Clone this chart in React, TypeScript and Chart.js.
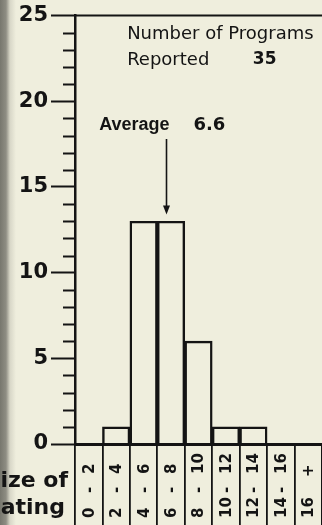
import React, { useEffect, useRef } from 'react';
import { Chart, registerables } from 'chart.js';

Chart.register(...registerables);

// ---- data ----
const categories = ['0 - 2', '2 - 4', '4 - 6', '6 - 8', '8 - 10', '10 - 12', '12 - 14', '14 - 16', '16 +'];
const programCounts = [0, 1, 13, 13, 6, 1, 1, 0, 0];
const yMax = 25;
const yLabelStep = 5;
const averageRating = 6.6;
const binWidth = 2;
const totalReported = 35;
const xTitleLines = ['Size of', 'Rating'];

const INK = '#141414';
const PAPER = '#efeedd';
const FONT = '"DejaVu Sans", sans-serif';

function drawRot(ctx: any, text: string, px: number, py: number) {
  ctx.save();
  ctx.translate(px, py);
  ctx.rotate(-Math.PI / 2);
  ctx.fillText(text, 0, 0);
  ctx.restore();
}

const decorPlugin = {
  id: 'decor',
  afterDraw(chart: any) {
    const { ctx, chartArea, scales } = chart;
    const x = scales.x;
    const y = scales.y;
    ctx.save();
    ctx.strokeStyle = INK;
    ctx.fillStyle = INK;
    ctx.lineCap = 'butt';

    // minor ticks
    ctx.lineWidth = 2;
    for (let v = 0; v <= yMax; v++) {
      if (v % yLabelStep === 0) continue;
      const py = Math.round(y.getPixelForValue(v)) + 0.5;
      ctx.beginPath();
      ctx.moveTo(chartArea.left - 12, py);
      ctx.lineTo(chartArea.left, py);
      ctx.stroke();
    }

    // top frame line at max
    const topY = y.getPixelForValue(yMax);
    ctx.lineWidth = 2;
    ctx.beginPath();
    ctx.moveTo(chartArea.left, topY);
    ctx.lineTo(chartArea.right, topY);
    ctx.stroke();

    // category labels (rotated, read bottom to top)
    const b = chartArea.bottom;
    ctx.font = `bold 15px ${FONT}`;
    ctx.textBaseline = 'middle';
    categories.forEach((c, i) => {
      const px = x.getPixelForValue(i) + 1;
      const hasDash = c.includes(' - ');
      const parts = hasDash ? c.split(' - ') : c.split(' ');
      ctx.textAlign = 'left';
      drawRot(ctx, parts[0], px, b + 74);
      if (hasDash) {
        ctx.textAlign = 'center';
        drawRot(ctx, '-', px, b + 46);
        ctx.textAlign = 'left';
        drawRot(ctx, parts[1], px, b + 30);
      } else {
        ctx.textAlign = 'left';
        drawRot(ctx, parts[1], px, b + 33);
      }
    });

    // x title (cut at left edge)
    ctx.font = `bold 22px ${FONT}`;
    ctx.textAlign = 'right';
    ctx.textBaseline = 'alphabetic';
    ctx.fillText(xTitleLines[0], chartArea.left - 7, b + 43);
    ctx.fillText(xTitleLines[1], chartArea.left - 10, b + 70);

    // "Number of Programs Reported 35"
    const textLeft = x.getPixelForValue(1.4);
    ctx.textAlign = 'left';
    ctx.font = `18px ${FONT}`;
    ctx.fillText('Number of Programs', textLeft, y.getPixelForValue(23.65));
    ctx.fillText('Reported', textLeft, y.getPixelForValue(22.1));
    ctx.font = `bold 17px ${FONT}`;
    ctx.fillText(String(totalReported), x.getPixelForValue(5.98), y.getPixelForValue(22.15));

    // Average arrow
    const ax = Math.round(x.getPixelForValue(averageRating / binWidth - 0.5)) + 0.5;
    const labelY = y.getPixelForValue(18.3);
    ctx.font = `bold 18px "Liberation Sans", sans-serif`;
    ctx.textAlign = 'right';
    ctx.fillText('Average', ax + 3, labelY);
    ctx.font = `bold 18px ${FONT}`;
    ctx.textAlign = 'left';
    ctx.fillText(String(averageRating), ax + 27, labelY);
    const tipY = y.getPixelForValue(13.4);
    ctx.lineWidth = 1.6;
    ctx.beginPath();
    ctx.moveTo(ax, y.getPixelForValue(17.8));
    ctx.lineTo(ax, tipY - 4);
    ctx.stroke();
    ctx.beginPath();
    ctx.moveTo(ax, tipY);
    ctx.lineTo(ax - 3.5, tipY - 9);
    ctx.lineTo(ax + 3.5, tipY - 9);
    ctx.closePath();
    ctx.fill();

    ctx.restore();
  },
};

export default function App() {
  const canvasRef = useRef<HTMLCanvasElement | null>(null);

  useEffect(() => {
    document.body.style.margin = '0';
    const canvas = canvasRef.current;
    if (!canvas) return;
    const chart = new Chart(canvas, {
      type: 'bar',
      data: {
        labels: categories,
        datasets: [
          {
            data: programCounts,
            backgroundColor: 'transparent',
            borderColor: INK,
            borderWidth: 1.8,
            borderSkipped: 'start',
            barPercentage: 1,
            categoryPercentage: 1,
          },
        ],
      },
      options: {
        animation: false,
        responsive: true,
        maintainAspectRatio: false,
        layout: { padding: { top: 15, right: 0, left: 0, bottom: 0 } },
        plugins: { legend: { display: false }, tooltip: { enabled: false } },
        scales: {
          x: {
            offset: true,
            grid: {
              offset: true,
              drawOnChartArea: false,
              drawTicks: true,
              tickLength: 90,
              color: INK,
              lineWidth: 1.8,
            },
            border: { display: true, color: INK, width: 3 },
            ticks: { display: false },
            afterFit: (scale: any) => {
              scale.height = 81;
            },
          },
          y: {
            min: 0,
            max: yMax,
            ticks: {
              stepSize: 1,
              autoSkip: false,
              color: INK,
              padding: 3,
              font: { family: FONT, size: 21, weight: 'bold' },
              callback: (v: any) => (Number(v) % yLabelStep === 0 ? String(v) : ''),
            },
            grid: {
              drawOnChartArea: false,
              drawTicks: true,
              tickLength: 24,
              tickWidth: 2,
              tickColor: (c: any) => (c.tick && c.tick.value % yLabelStep === 0 ? INK : 'rgba(0,0,0,0)'),
            },
            border: { display: true, color: INK, width: 2.5 },
            afterFit: (scale: any) => {
              scale.width = 75;
            },
          },
        },
      },
      plugins: [decorPlugin],
    });
    return () => chart.destroy();
  }, []);

  return (
    <div style={{ position: 'absolute', left: 0, top: 0, width: 322, height: 525, background: PAPER, overflow: 'hidden' }}>
      <div
        style={{
          position: 'absolute',
          left: 0,
          top: 0,
          width: 16,
          height: 525,
          background: 'linear-gradient(to right, #77776e 0px, #8e8d83 6px, rgba(200,199,185,0.6) 10px, rgba(239,238,221,0) 16px)',
        }}
      />
      <div style={{ position: 'absolute', left: 0, top: 0, width: 322, height: 525 }}>
        <canvas ref={canvasRef} />
      </div>
    </div>
  );
}
